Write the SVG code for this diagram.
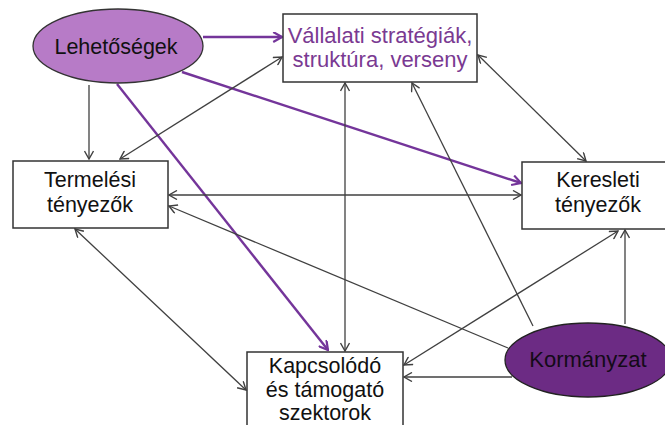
<svg xmlns="http://www.w3.org/2000/svg" width="665" height="425" viewBox="0 0 665 425">
<style>
.g{stroke:#404040;stroke-width:1.3;fill:none}
.p{stroke:#74359a;stroke-width:2.4;fill:none}
.box{fill:#fff;stroke:#333;stroke-width:1.5}
.t{font-family:"Liberation Sans",Arial,sans-serif;font-size:21.5px;text-anchor:middle;fill:#111}
</style>
<defs>
<marker id="ag" viewBox="0 0 10 10" refX="9" refY="5" markerWidth="10" markerHeight="10" markerUnits="userSpaceOnUse" orient="auto-start-reverse">
<path d="M1,0.5 L9,5 L1,9.5" fill="none" stroke="#404040" stroke-width="1.4"/>
</marker>
<marker id="ap" viewBox="0 0 10 10" refX="9" refY="5" markerWidth="11" markerHeight="11" markerUnits="userSpaceOnUse" orient="auto">
<path d="M1,0.5 L9,5 L1,9.5" fill="none" stroke="#74359a" stroke-width="2"/>
</marker>
</defs>
<g id="connectors">
<path class="p" d="M203,37 L282,37" marker-end="url(#ap)"/>
<path class="p" d="M182,72 L521,183" marker-end="url(#ap)"/>
<path class="p" d="M117,84 L328,350" marker-end="url(#ap)"/>
<path class="g" d="M89,85 L89,159" marker-end="url(#ag)"/>
<path class="g" d="M120,159 L282,57" marker-start="url(#ag)" marker-end="url(#ag)"/>
<path class="g" d="M169,195 L521,195" marker-start="url(#ag)" marker-end="url(#ag)"/>
<path class="g" d="M508,348 L169,206" marker-end="url(#ag)"/>
<path class="g" d="M75,229 L246,390" marker-start="url(#ag)" marker-end="url(#ag)"/>
<path class="g" d="M345,83 L345,351" marker-start="url(#ag)" marker-end="url(#ag)"/>
<path class="g" d="M533,326 L412,83" marker-end="url(#ag)"/>
<path class="g" d="M478,55 L586,161" marker-start="url(#ag)" marker-end="url(#ag)"/>
<path class="g" d="M404,365 L618,231" marker-start="url(#ag)" marker-end="url(#ag)"/>
<path class="g" d="M512,377 L404,377" marker-end="url(#ag)"/>
<path class="g" d="M625,324 L625,230" marker-end="url(#ag)"/>
</g>
<g id="lehetosegek">
<ellipse cx="118" cy="46" rx="85" ry="37" fill="#b77bc7" stroke="#333" stroke-width="1.3"/>
<text class="t" x="116" y="54" style="font-size:21.5px">Lehetőségek</text>
</g>
<g id="vallalati">
<rect class="box" x="283" y="14" width="194" height="68"/>
<text class="t" x="380" y="43" style="fill:#7a3a92;font-size:22px">Vállalati stratégiák,</text>
<text class="t" x="380" y="67" style="fill:#7a3a92;font-size:22px">struktúra, verseny</text>
</g>
<g id="termelesi">
<rect class="box" x="13" y="161" width="155" height="67"/>
<text class="t" x="90" y="187">Termelési</text>
<text class="t" x="90" y="212">tényezők</text>
</g>
<g id="keresleti">
<rect class="box" x="522" y="162" width="152" height="67"/>
<text class="t" x="598" y="187">Keresleti</text>
<text class="t" x="598" y="212">tényezők</text>
</g>
<g id="kapcsolodo">
<rect class="box" x="247" y="352" width="156" height="90"/>
<text class="t" x="325" y="373">Kapcsolódó</text>
<text class="t" x="325" y="397">és támogató</text>
<text class="t" x="325" y="420">szektorok</text>
</g>
<g id="kormanyzat">
<ellipse cx="588" cy="360" rx="83" ry="37" fill="#6c2b84" stroke="#222" stroke-width="1.3"/>
<text class="t" x="588" y="367" style="fill:#140a18;font-size:22px">Kormányzat</text>
</g>
</svg>
